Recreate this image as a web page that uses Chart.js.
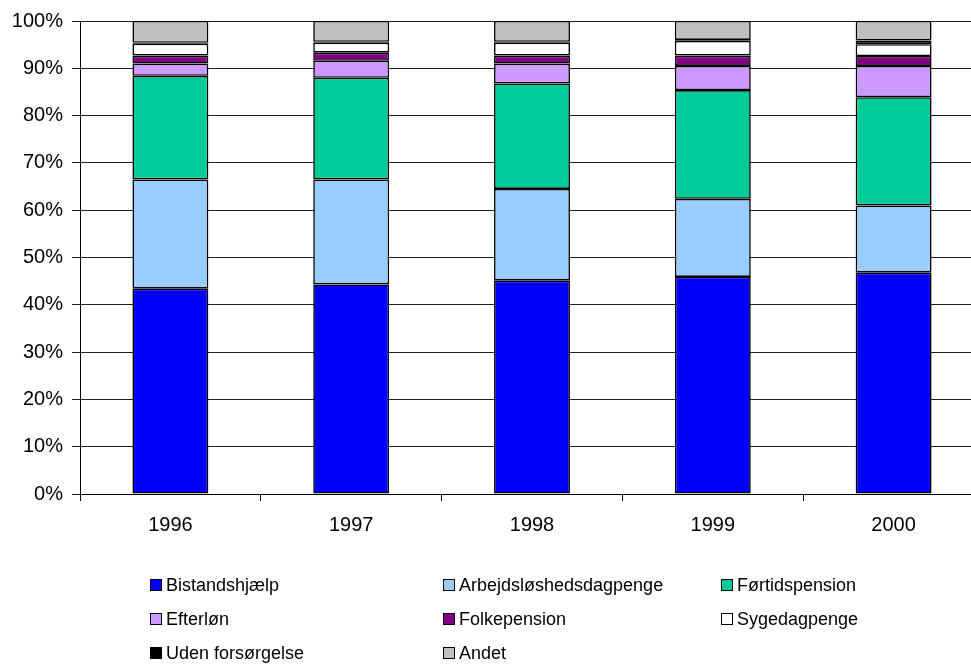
<!DOCTYPE html>
<html>
<head>
<meta charset="utf-8">
<script src="https://cdn.jsdelivr.net/npm/chart.js@4.4.0/dist/chart.umd.min.js"></script>
<style>
  html, body { margin: 0; padding: 0; background: #fff; overflow: hidden; }
  #wrap { width: 984px; height: 666px; }
</style>
</head>
<body>
<div id="wrap"><canvas id="bar-chart" width="984" height="666"></canvas></div>
<script>
// Data (percent of each year)
var years = ["1996", "1997", "1998", "1999", "2000"];
var bistandshjaelp = [43.4, 44.3, 45.1, 45.9, 46.8];
var arbejdsloeshed = [23.1, 22.2, 19.4, 16.5, 14.2];
var foertidspension = [21.9, 21.5, 22.3, 23.0, 22.9];
var efterloen = [2.6, 3.6, 4.2, 5.1, 6.6];
var folkepension = [1.7, 1.7, 1.7, 2.2, 2.1];
var sygedagpenge = [2.5, 2.1, 2.7, 3.1, 2.5];
var udenForsoergelse = [0.2, 0.2, 0.2, 0.2, 0.8];
var andet = [4.6, 4.4, 4.4, 4.0, 4.1];
var yTicks = [0, 10, 20, 30, 40, 50, 60, 70, 80, 90, 100];

document.addEventListener("DOMContentLoaded", function () {
  var ctx = document.getElementById("bar-chart").getContext("2d");
  var font = "Liberation Sans, Arial, sans-serif";

  // Common bar options
  var options = {
    borderColor: "#000",
    borderWidth: 1.6,
    borderSkipped: false,
    barPercentage: 1,
    categoryPercentage: 0.42,
  };

  // Legend laid out in a three column grid, like the original
  var gridLegend = {
    id: "gridLegend",
    afterDraw: function (chart) {
      var c = chart.ctx;
      var cols = [150, 443, 721];
      var rows = [585, 619, 653];
      c.save();
      c.font = "18px " + font;
      c.textBaseline = "middle";
      chart.data.datasets.forEach(function (ds, i) {
        var x = cols[i % 3];
        var y = rows[Math.floor(i / 3)];
        c.fillStyle = ds.backgroundColor;
        c.fillRect(x + 0.5, y - 5.5, 11, 11);
        c.strokeStyle = "#000";
        c.lineWidth = 1;
        c.strokeRect(x + 0.5, y - 5.5, 11, 11);
        c.fillStyle = "#000";
        c.fillText(ds.label, x + 16, y + 1);
      });
      c.restore();
    },
  };

  new Chart(ctx, {
    type: "bar",
    data: {
      labels: years,
      datasets: [
        { label: "Bistandshjælp", data: bistandshjaelp, backgroundColor: "#0000ff", ...options },
        { label: "Arbejdsløshedsdagpenge", data: arbejdsloeshed, backgroundColor: "#99ccff", ...options },
        { label: "Førtidspension", data: foertidspension, backgroundColor: "#00cc99", ...options },
        { label: "Efterløn", data: efterloen, backgroundColor: "#cc99ff", ...options },
        { label: "Folkepension", data: folkepension, backgroundColor: "#800080", ...options },
        { label: "Sygedagpenge", data: sygedagpenge, backgroundColor: "#ffffff", ...options },
        { label: "Uden forsørgelse", data: udenForsoergelse, backgroundColor: "#000000", ...options },
        { label: "Andet", data: andet, backgroundColor: "#c0c0c0", ...options },
      ],
    },
    options: {
      responsive: false,
      animation: false,
      layout: {
        padding: { top: 20, right: 0, bottom: 132, left: 0 },
      },
      plugins: {
        legend: { display: false },
        tooltip: { enabled: false },
      },
      scales: {
        x: {
          stacked: true,
          afterFit: function (scale) {
            scale.height = 40;
          },
          grid: {
            drawOnChartArea: false,
            drawTicks: true,
            tickLength: 7,
            color: "#000",
          },
          border: { color: "#000", width: 1 },
          ticks: {
            color: "#000",
            padding: 12,
            font: { family: font, size: 20 },
          },
        },
        y: {
          stacked: true,
          min: 0,
          max: 100,
          afterFit: function (scale) {
            scale.width = 80;
          },
          afterBuildTicks: function (scale) {
            scale.ticks = yTicks.map(function (v) {
              return { value: v };
            });
          },
          grid: {
            color: "#222",
            tickLength: 8,
          },
          border: { color: "#000", width: 1 },
          ticks: {
            color: "#000",
            padding: 9,
            font: { family: font, size: 20 },
            callback: function (value) {
              return value + "%";
            },
          },
        },
      },
    },
    plugins: [gridLegend],
  });
});
</script>
</body>
</html>
